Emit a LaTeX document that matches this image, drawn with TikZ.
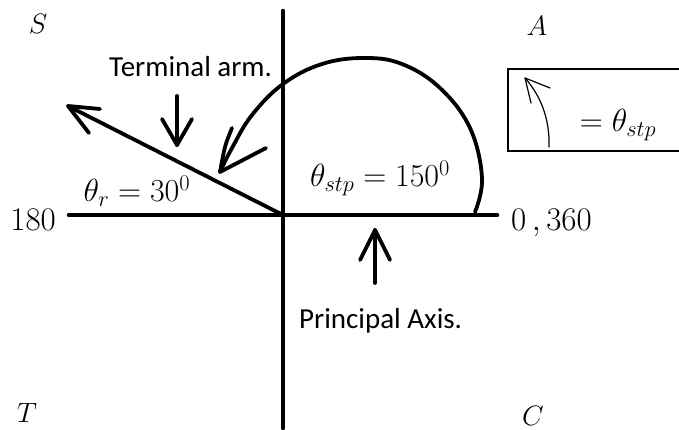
\RequirePackage{fix-cm}
\documentclass[tikz,border=0pt]{standalone}
\usepackage{fontspec}
\newfontfamily\calib{Carlito}
\begin{document}
\begin{tikzpicture}[x=1pt,y=-1pt,
  axis/.style={line width=4.6pt,line cap=round},
  thick stroke/.style={line width=3.8pt,line cap=round,line join=round},
  thin stroke/.style={line width=1.2pt,line cap=round,line join=round},
  lbl/.style={inner sep=0pt,font=\calib\fontsize{29}{32}\selectfont},
  mth/.style={inner sep=0pt,font=\fontsize{32}{34}\selectfont},
  num/.style={inner sep=0pt,font=\fontsize{33}{35}\selectfont},
  quad/.style={inner sep=0pt,font=\fontsize{28}{30}\selectfont}]
\useasboundingbox (0,0) rectangle (679,430);
% coordinates
\coordinate (O) at (283,215);
\coordinate (ytop) at (283,11);
\coordinate (ybot) at (283,428);
\coordinate (xl) at (69,215);
\coordinate (xr) at (497,215);
\coordinate (armtip) at (68,106);
% axes
\draw[axis] (ytop) -- (ybot);
\draw[axis] (xl) -- (xr);
% terminal arm
\draw[thick stroke] (O) -- (armtip);
\draw[thick stroke] (100,109) -- (armtip) -- (89,133);
% quadrant labels
\node[quad] (S) at (38,24) {$S$};
\node[quad] (A) at (537,26) {$A$};
\node[quad] (T) at (27,413) {$T$};
\node[quad,anchor=base] (C) at (533,425) {$C$};
% numbers
\node[num,anchor=base east] (n180) at (56,230) {$180$};
\node[num,anchor=base west] (n360) at (511,230) {$0\,,360$};
% texts
\node[lbl,anchor=base west] (term) at (109,77) {Terminal arm.};
\node[lbl,anchor=base west] (princ) at (299,328) {Principal Axis.};
\node[mth,anchor=base] (thr) at (137,202) {$\theta_r=30^0$};
\node[mth,anchor=base] (ths) at (380,187) {$\theta_{stp}=150^0$};
% down arrow under Terminal arm.
\coordinate (dtop) at (177,96);
\coordinate (dtip) at (177,145);
\draw[thick stroke] (dtop) -- (dtip);
\draw[thick stroke] (162,119) -- (dtip) -- (192,119);
% up arrow principal axis
\coordinate (ubot) at (375,283);
\coordinate (utip) at (375,230);
\draw[thick stroke] (ubot) -- (utip);
\draw[thick stroke] (360,260) -- (utip) -- (390,260);
% big rotation arrow
\coordinate (ctip) at (220,172);
\draw[thick stroke] plot[smooth,tension=0.65] coordinates {(475,212) (482,178) (470,128) (440,88) (402,64) (364,58) (322,64) (283,84) (252,115) (232,148) (ctip)};
\draw[thick stroke] (232,128) .. controls (225,145) .. (ctip) -- (266,148);
% legend box
\draw[line width=1.3pt] (679,69) -- (508,69) -- (508,151) -- (679,151);
\coordinate (ltip) at (525,78);
\draw[thin stroke] (549,147) .. controls (550,118) and (540,95) .. (ltip);
\draw[thin stroke] (550,88) -- (ltip) -- (531,103);
\node[mth,anchor=base] (leg) at (618,132) {$=\theta_{stp}$};
\end{tikzpicture}
\end{document}
